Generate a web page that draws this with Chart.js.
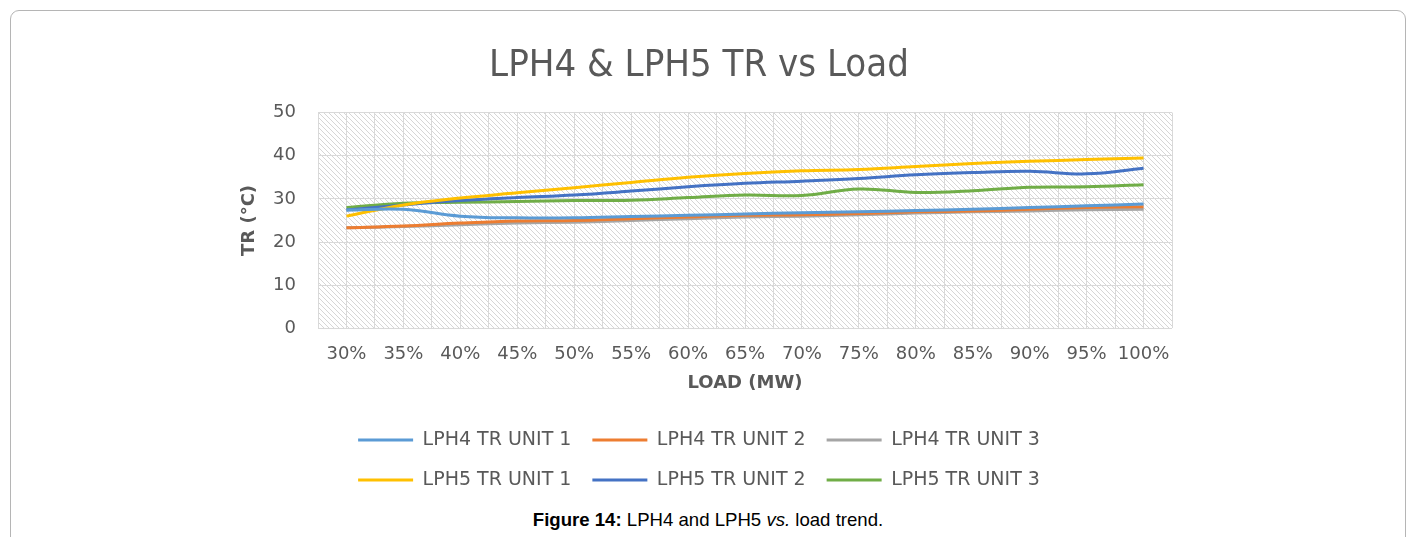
<!DOCTYPE html>
<html>
<head>
<meta charset="utf-8">
<script src="https://cdn.jsdelivr.net/npm/chart.js@4/dist/chart.umd.min.js"></script>
<style>
    body { margin: 0; background: #fff; width: 1416px; height: 537px; overflow: hidden; position: relative; }
    .card { position: absolute; left: 10px; top: 10px; width: 1394px; height: 600px; border: 1px solid #b5b5b5; border-radius: 9px; }
    #chartBox { position: absolute; left: 226px; top: 30px; width: 954px; height: 470px; }
    .caption { position: absolute; left: 0; width: 1416px; top: 509px; text-align: center; font-family: "Liberation Sans", Arial, sans-serif; font-size: 18.6px; color: #000; }
</style>
</head>
<body>
<div class="card"></div>
<div id="chartBox"><canvas id="trChart"></canvas></div>
<div class="caption"><b>Figure 14:</b> LPH4 and LPH5 <i>vs.</i> load trend.</div>

<script>
const categories = ['30%', '35%', '40%', '45%', '50%', '55%', '60%', '65%', '70%', '75%', '80%', '85%', '90%', '95%', '100%'];

const lph4Unit1 = [27.4, 27.6, 26.0, 25.6, 25.6, 25.9, 26.2, 26.5, 26.8, 27.0, 27.3, 27.6, 28.0, 28.4, 28.8];
const lph4Unit2 = [23.3, 23.7, 24.4, 24.9, 25.0, 25.4, 25.8, 26.2, 26.3, 26.6, 27.0, 27.2, 27.6, 28.0, 28.2];
const lph4Unit3 = [23.3, 23.6, 24.0, 24.4, 24.6, 25.0, 25.4, 25.8, 26.0, 26.3, 26.7, 27.0, 27.2, 27.5, 27.6];
const lph5Unit1 = [26.0, 28.6, 30.2, 31.4, 32.6, 33.8, 35.0, 35.9, 36.5, 36.8, 37.5, 38.2, 38.7, 39.1, 39.5];
const lph5Unit2 = [27.4, 28.6, 29.6, 30.3, 30.9, 31.8, 32.8, 33.6, 34.1, 34.7, 35.6, 36.1, 36.4, 35.8, 37.1];
const lph5Unit3 = [28.0, 29.0, 29.2, 29.4, 29.6, 29.7, 30.3, 30.9, 30.8, 32.3, 31.5, 31.9, 32.7, 32.8, 33.3];

const yTicks = [0, 10, 20, 30, 40, 50];

const textGray = '#595959';
const gridGray = '#d9d9d9';

// diagonal hatch fill behind the plot area
function makeHatch() {
    const s = 5;
    const c = document.createElement('canvas');
    c.width = s; c.height = s;
    const g = c.getContext('2d');
    g.fillStyle = '#fff';
    g.fillRect(0, 0, s, s);
    g.strokeStyle = '#d6d6d6';
    g.lineWidth = 1;
    g.beginPath();
    g.moveTo(0, 0); g.lineTo(s, s);
    g.moveTo(-1, s - 1); g.lineTo(1, s + 1);
    g.moveTo(s - 1, -1); g.lineTo(s + 1, 1);
    g.stroke();
    return g.createPattern(c, 'repeat');
}

const hatchPlugin = {
    id: 'hatch',
    beforeDraw(chart) {
        const {ctx, chartArea: a} = chart;
        ctx.save();
        ctx.fillStyle = makeHatch();
        ctx.fillRect(a.left, a.top, a.right - a.left, a.bottom - a.top);
        ctx.restore();
    }
};

function series(label, data, color) {
    return {
        label: label,
        data: data,
        borderColor: color,
        backgroundColor: color,
        borderWidth: 3,
        pointRadius: 0,
        tension: 0.4,
        fill: false
    };
}

const tickFont = { family: 'DejaVu Sans', size: 18 };

new Chart(document.getElementById('trChart'), {
    type: 'line',
    data: {
        labels: categories,
        datasets: [
            series('LPH4 TR UNIT 1', lph4Unit1, '#5b9bd5'),
            series('LPH4 TR UNIT 2', lph4Unit2, '#ed7d31'),
            series('LPH4 TR UNIT 3', lph4Unit3, '#a5a5a5'),
            series('LPH5 TR UNIT 1', lph5Unit1, '#ffc000'),
            series('LPH5 TR UNIT 2', lph5Unit2, '#4472c4'),
            series('LPH5 TR UNIT 3', lph5Unit3, '#70ad47')
        ]
    },
    options: {
        responsive: true,
        maintainAspectRatio: false,
        animation: false,
        layout: { padding: { left: 0, right: 8, top: 0, bottom: 0.5 } },
        plugins: {
            title: {
                display: true,
                text: 'LPH4 & LPH5 TR vs Load',
                color: textGray,
                font: { family: "'Liberation Sans Narrow', 'DejaVu Sans Condensed', sans-serif", size: 38, weight: 'normal' },
                padding: { top: 13, bottom: 24 }
            },
            legend: {
                position: 'bottom',
                labels: {
                    color: textGray,
                    font: { family: 'DejaVu Sans', size: 19 },
                    boxWidth: 55,
                    boxHeight: 3,
                    padding: 21,
                    generateLabels: chart => Chart.defaults.plugins.legend.labels.generateLabels(chart)
                        .map(item => Object.assign(item, { lineWidth: 0 }))
                }
            },
            tooltip: { enabled: false }
        },
        scales: {
            x: {
                offset: true,
                afterFit: scale => { scale.paddingLeft = 0; scale.paddingRight = 0; },
                grid: { color: gridGray, offset: false, drawTicks: false },
                border: { display: false },
                ticks: { color: textGray, font: tickFont, padding: 15, maxRotation: 0, autoSkip: false },
                title: {
                    display: true,
                    text: 'LOAD (MW)',
                    color: textGray,
                    font: { family: 'DejaVu Sans', size: 18, weight: 'bold' },
                    padding: { top: -7, bottom: 15 }
                }
            },
            x2: {
                type: 'category',
                position: 'bottom',
                offset: true,
                grid: { color: gridGray, offset: true, drawTicks: false },
                border: { display: false },
                ticks: { display: false }
            },
            y: {
                min: 0,
                max: 50,
                afterBuildTicks: scale => { scale.ticks = yTicks.map(v => ({ value: v })); },
                afterFit: scale => { scale.width = 92; },
                grid: { color: gridGray, drawTicks: false },
                border: { display: false },
                ticks: { color: textGray, font: tickFont, padding: 22 },
                title: {
                    display: true,
                    text: 'TR (°C)',
                    color: textGray,
                    font: { family: 'DejaVu Sans', size: 18, weight: 'bold' },
                    padding: { top: 13, bottom: 0 }
                }
            }
        }
    },
    plugins: [hatchPlugin]
});
</script>
</body>
</html>
